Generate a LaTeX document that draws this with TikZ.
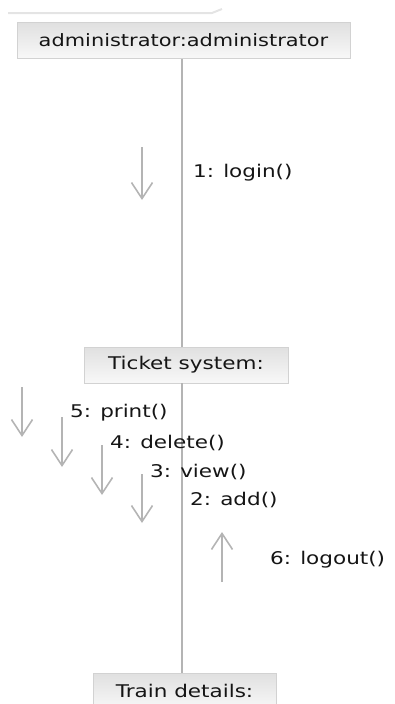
\documentclass[tikz,border=0pt]{standalone}
\usepackage{fontspec}
\usetikzlibrary{arrows.meta}
\newfontfamily\dvs[FakeStretch=1.23]{DejaVu Sans}
\definecolor{linegray}{HTML}{B4B4B4}
\definecolor{boxborder}{HTML}{D2D2D2}
\definecolor{boxtop}{HTML}{E0E0E0}
\definecolor{boxbot}{HTML}{F8F8F8}
\definecolor{txt}{HTML}{151515}
\definecolor{tabline}{HTML}{E4E4E4}
\begin{document}
\begin{tikzpicture}[x=1pt,y=-1pt,
  objbox/.style={draw=boxborder,line width=1pt,top color=boxtop,bottom color=boxbot,
    minimum height=36pt,inner sep=0pt,text=txt,font=\dvs\fontsize{17.5}{19}\selectfont},
  life/.style={draw=linegray,line width=1.6pt},
  msg/.style={draw=linegray,line width=1.6pt,-{Straight Barb[length=16pt,width=21pt,line width=1.6pt]}},
  lab/.style={anchor=west,inner sep=0pt,text=txt,font=\dvs\fontsize{17.5}{19}\selectfont}]
\useasboundingbox (0,0) rectangle (395,704);
\clip (0,0) rectangle (395,704);
% top tab edge
\draw[tabline,line width=2pt] (8,13) -- (212,13) -- (222,9);
% objects
\node[objbox,minimum width=333pt,font=\dvs\fontsize{17}{19}\selectfont] (admin) at (183.5,40.5) {administrator:administrator};
\node[objbox,minimum width=204pt] (ticket) at (186,365) {Ticket system:};
\node[objbox,minimum width=183pt] (train) at (184.5,691) {Train details:};
% lifelines
\coordinate (a1) at (182,59);
\coordinate (t0) at (182,347);
\coordinate (t1) at (182,383);
\coordinate (r0) at (182,673);
\draw[life] (a1) -- (t0);
\draw[life] (t1) -- (r0);
% messages
\coordinate (m1s) at (142,147); \coordinate (m1e) at (142,200);
\coordinate (m5s) at (22,387);  \coordinate (m5e) at (22,437);
\coordinate (m4s) at (62,417);  \coordinate (m4e) at (62,467);
\coordinate (m3s) at (102,445); \coordinate (m3e) at (102,495);
\coordinate (m2s) at (142,474); \coordinate (m2e) at (142,523);
\coordinate (m6s) at (222,582); \coordinate (m6e) at (222,532);
\draw[msg] (m1s) -- (m1e);
\draw[msg] (m5s) -- (m5e);
\draw[msg] (m4s) -- (m4e);
\draw[msg] (m3s) -- (m3e);
\draw[msg] (m2s) -- (m2e);
\draw[msg] (m6s) -- (m6e);
\node[lab] (l1) at (193,173) {1: login()};
\node[lab] (l5) at (70,413) {5: print()};
\node[lab] (l4) at (110,443) {4: delete()};
\node[lab] (l3) at (150,472) {3: view()};
\node[lab] (l2) at (190,500) {2: add()};
\node[lab] (l6) at (270,560) {6: logout()};
\end{tikzpicture}
\end{document}
